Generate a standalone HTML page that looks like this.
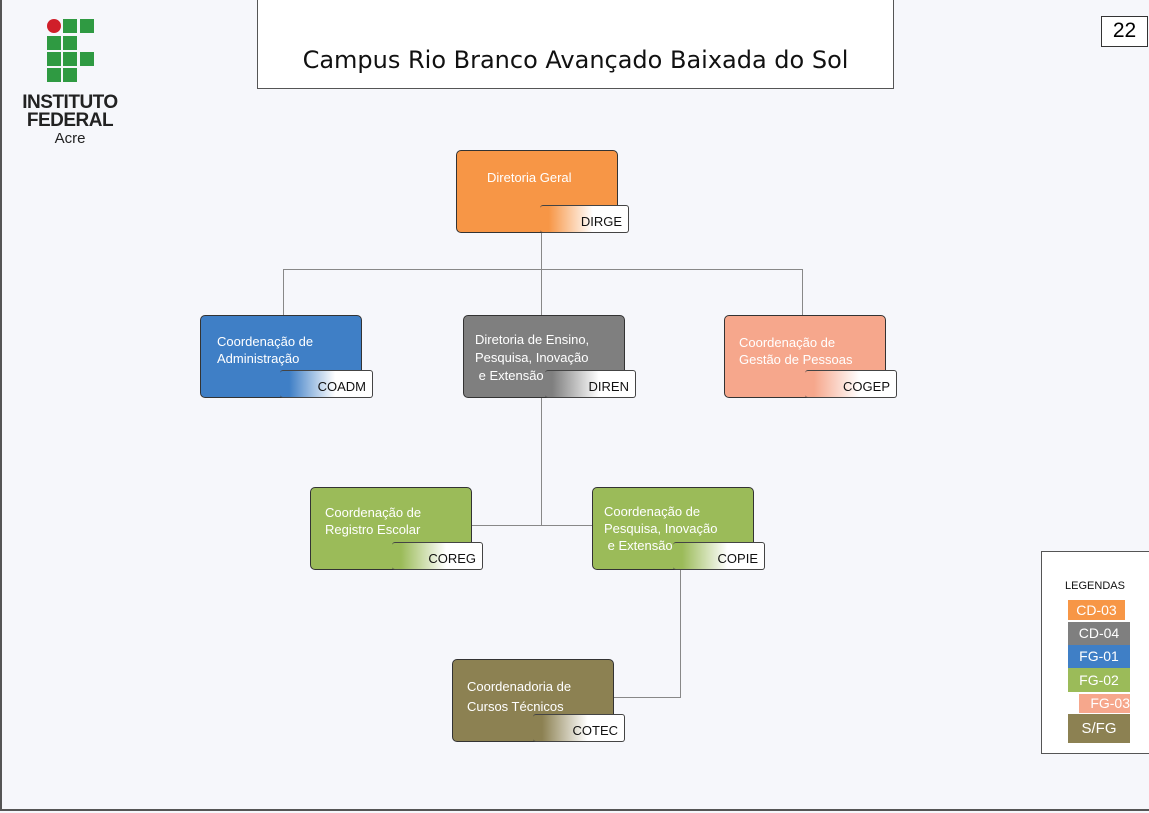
<!DOCTYPE html>
<html><head><meta charset="utf-8"><style>
body{margin:0;width:1149px;height:813px;background:#f6f7fb;position:relative;overflow:hidden;font-family:"Liberation Sans","DejaVu Sans",sans-serif}
.frame{position:absolute;left:0;top:0;width:1149px;height:811px;border-left:2px solid #555;border-bottom:2px solid #555;box-sizing:border-box}
.a{position:absolute}
.box{position:absolute;width:162px;height:83px;border:1px solid #333;border-radius:5px;color:#fff;font-size:13px;line-height:17px;box-sizing:border-box}
.box span{position:absolute}
.tag{position:absolute;height:28px;border:1px solid #444;border-radius:3px;box-sizing:border-box;font-size:13px;color:#111;text-align:right;padding:8px 6px 0 0;border-left:none}
.l{position:absolute;background:#888}
.lg{position:absolute;color:#fff;font-size:14px;text-align:center;line-height:20px}
</style></head><body>
<div class="frame"></div>
<div class="a" style="left:47px;top:19px;width:14px;height:14px;border-radius:50%;background:#d01f2a"></div>
<div class="a" style="left:63px;top:19px;width:14px;height:14px;background:#2f9a42"></div>
<div class="a" style="left:80px;top:19px;width:14px;height:14px;background:#2f9a42"></div>
<div class="a" style="left:47px;top:36px;width:14px;height:14px;background:#2f9a42"></div>
<div class="a" style="left:63px;top:36px;width:14px;height:14px;background:#2f9a42"></div>
<div class="a" style="left:47px;top:52px;width:14px;height:14px;background:#2f9a42"></div>
<div class="a" style="left:63px;top:52px;width:14px;height:14px;background:#2f9a42"></div>
<div class="a" style="left:80px;top:52px;width:14px;height:14px;background:#2f9a42"></div>
<div class="a" style="left:47px;top:68px;width:14px;height:14px;background:#2f9a42"></div>
<div class="a" style="left:63px;top:68px;width:14px;height:14px;background:#2f9a42"></div>
<div class="a" style="left:15px;top:94px;width:110px;text-align:center;font-weight:bold;font-size:19px;line-height:18px;color:#222;letter-spacing:-0.5px">INSTITUTO<br>FEDERAL</div>
<div class="a" style="left:15px;top:130px;width:110px;text-align:center;font-size:15px;color:#222">Acre</div>
<div class="a" style="left:257px;top:-2px;width:637px;height:91px;border:1px solid #555;box-sizing:border-box;background:#fff;text-align:center;font-family:'DejaVu Sans',sans-serif;font-size:24px;line-height:24px;padding-top:49px;color:#111">Campus Rio Branco Avançado Baixada do Sol</div>
<div class="a" style="left:1101px;top:16px;width:47px;height:31px;border:1px solid #333;box-sizing:border-box;background:#fff;text-align:center;font-size:21px;line-height:28px">22</div>
<div class="l" style="left:541px;top:232px;width:1px;height:83px"></div>
<div class="l" style="left:283px;top:269px;width:520px;height:1px"></div>
<div class="l" style="left:283px;top:269px;width:1px;height:46px"></div>
<div class="l" style="left:802px;top:269px;width:1px;height:46px"></div>
<div class="l" style="left:541px;top:397px;width:1px;height:128px"></div>
<div class="l" style="left:471px;top:525px;width:121px;height:1px"></div>
<div class="l" style="left:680px;top:569px;width:1px;height:128px"></div>
<div class="l" style="left:613px;top:697px;width:68px;height:1px"></div>

<div class="box" style="left:456px;top:150px;background:#f79646"><span style="left:30px;top:18px">Diretoria Geral</span></div>
<div class="tag" style="left:540px;top:205px;width:89px;background:linear-gradient(90deg,#f79646 0%,#f79646 10%,#fff 60%)">DIRGE</div>

<div class="box" style="left:200px;top:315px;background:#3f7fc6"><span style="left:16px;top:17px">Coordenação de<br>Administração</span></div>
<div class="tag" style="left:280px;top:370px;width:93px;background:linear-gradient(90deg,#3f7fc6 0%,#3f7fc6 10%,#fff 60%)">COADM</div>

<div class="box" style="left:463px;top:315px;background:#7f7f7f"><span style="left:11px;top:15px;line-height:18px">Diretoria de Ensino,<br>Pesquisa, Inovação<br>&nbsp;e Extensão</span></div>
<div class="tag" style="left:545px;top:370px;width:91px;background:linear-gradient(90deg,rgba(127,127,127,0) 0%,#7f7f7f 8%,#fff 60%)">DIREN</div>

<div class="box" style="left:724px;top:315px;background:#f6a78c"><span style="left:14px;top:18px">Coordenação de<br>Gestão de Pessoas</span></div>
<div class="tag" style="left:805px;top:370px;width:92px;background:linear-gradient(90deg,#f6a78c 0%,#f6a78c 10%,#fff 60%)">COGEP</div>

<div class="box" style="left:310px;top:487px;background:#9bbb59"><span style="left:14px;top:16px">Coordenação de<br>Registro Escolar</span></div>
<div class="tag" style="left:392px;top:542px;width:91px;background:linear-gradient(90deg,#9bbb59 0%,#9bbb59 10%,#fff 60%)">COREG</div>

<div class="box" style="left:592px;top:487px;background:#9bbb59"><span style="left:11px;top:15px;line-height:17px">Coordenação de<br>Pesquisa, Inovação<br>&nbsp;e Extensão</span></div>
<div class="tag" style="left:673px;top:542px;width:92px;background:linear-gradient(90deg,rgba(155,187,89,0) 0%,#9bbb59 10%,#fff 60%)">COPIE</div>

<div class="box" style="left:452px;top:659px;background:#8c8152"><span style="left:14px;top:17px;line-height:20px">Coordenadoria de<br>Cursos Técnicos</span></div>
<div class="tag" style="left:533px;top:714px;width:92px;background:linear-gradient(90deg,#8c8152 0%,#8c8152 10%,#fff 60%)">COTEC</div>

<div class="a" style="left:1041px;top:551px;width:110px;height:203px;border:1px solid #555;box-sizing:border-box;background:#fff"></div>
<div class="a" style="left:1041px;top:580px;width:108px;text-align:center;font-size:11px;color:#111">LEGENDAS</div>
<div class="lg" style="left:1068px;top:600px;width:57px;height:20px;background:#f79646">CD-03</div>
<div class="lg" style="left:1068px;top:622px;width:62px;height:23px;line-height:23px;background:#7f7f7f">CD-04</div>
<div class="lg" style="left:1068px;top:645px;width:62px;height:23px;line-height:23px;background:#3f7fc6">FG-01</div>
<div class="lg" style="left:1068px;top:668px;width:62px;height:24px;line-height:24px;background:#9bbb59">FG-02</div>
<div class="lg" style="left:1079px;top:694px;width:51px;height:19px;line-height:19px;background:#f6a78c;text-align:right">FG-03</div>
<div class="lg" style="left:1068px;top:714px;width:62px;height:29px;line-height:29px;background:#8c8152;font-size:15px">S/FG</div>
</body></html>
